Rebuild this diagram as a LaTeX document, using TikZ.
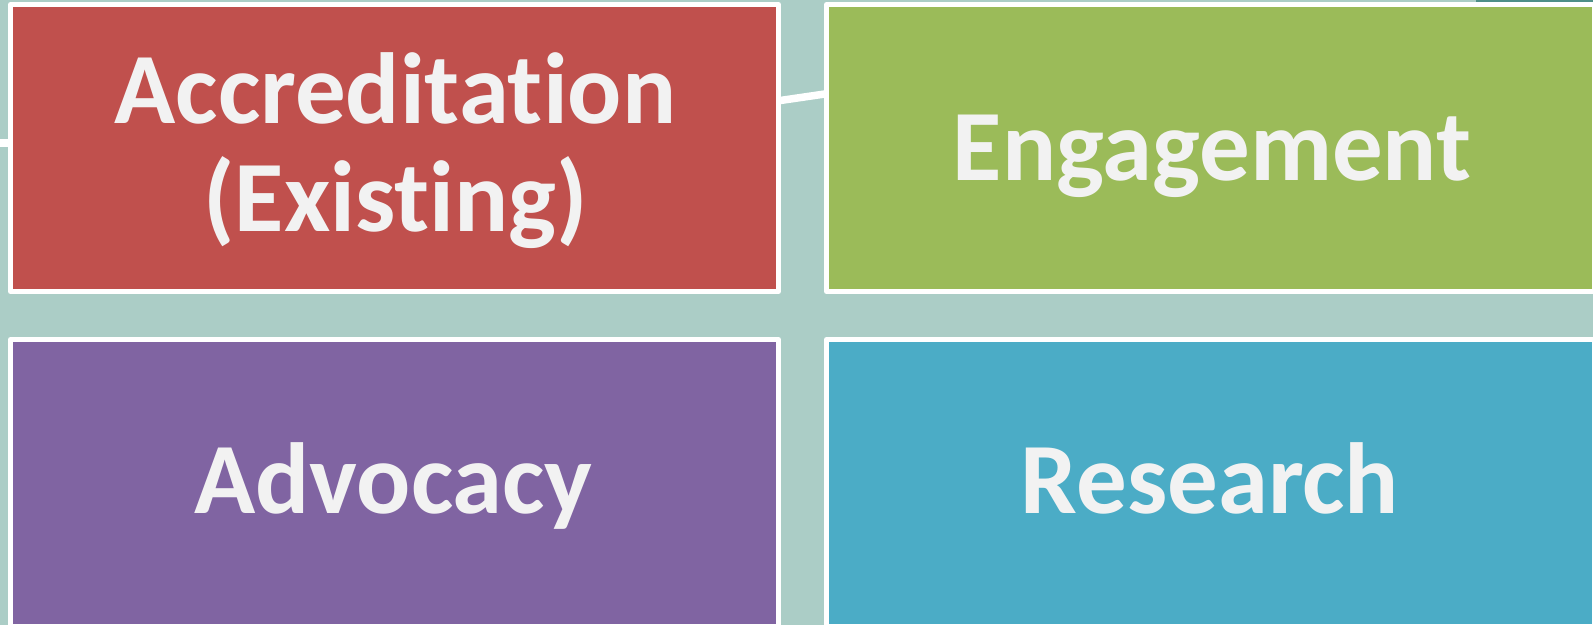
\documentclass[tikz,border=0pt]{standalone}
\usepackage{fontspec}
\setmainfont{Carlito}[Ligatures={NoCommon,NoRare,NoContextual}]
\definecolor{bgteal}{HTML}{ABCDC6}
\definecolor{darkteal}{HTML}{4E8F88}
\definecolor{cred}{HTML}{C0504D}
\definecolor{cgreen}{HTML}{9BBB59}
\definecolor{cpurple}{HTML}{8064A2}
\definecolor{cblue}{HTML}{4BACC6}
\definecolor{txt}{HTML}{F2F2F2}
\begin{document}
\begin{tikzpicture}[x=1pt,y=-1pt,
  box/.style={draw=white, line width=5pt, line join=round, rectangle,
    minimum width=768pt, minimum height=287pt, inner sep=0pt, outer sep=0pt},
  lbl/.style={anchor=base, inner sep=0pt, text=txt,
    font=\fontsize{101}{108}\selectfont\bfseries},
  conn/.style={draw=white, line width=7.5pt}]
\useasboundingbox (0,0) rectangle (1593,625);
\fill[bgteal] (0,0) rectangle (1593,625);
\clip (0,0) rectangle (1593,625);
% connectors behind the boxes
\coordinate (l0) at (0,142.5);
\coordinate (l1) at (20,142.5);
\coordinate (s0) at (770,102);
\coordinate (s1) at (835,92.5);
\coordinate (t0) at (1476,0);
\coordinate (t1) at (1600,0);
\draw[conn, line width=8pt] (l0) -- (l1);
\draw[conn] (s0) -- (s1);
\draw[darkteal, line width=4pt] (t0) -- (t1);
% boxes
\node[box, fill=cred] (acc) at (394.5,148) {};
\node[box, fill=cgreen] (eng) at (1210.5,148) {};
\node[box, fill=cpurple] (adv) at (394.5,483) {};
\node[box, fill=cblue] (res) at (1210.5,483) {};
% labels
\node[lbl] (acct1) at (395.5,123) {Accreditation};
\node[lbl] (acct2) at (395.5,231) {(Existing)};
\node[lbl] (engt) at (1212,180) {Engagement};
\node[lbl] (advt) at (393.5,513) {Advocacy};
\node[lbl] (rest) at (1210,513) {Research};
\end{tikzpicture}
\end{document}
